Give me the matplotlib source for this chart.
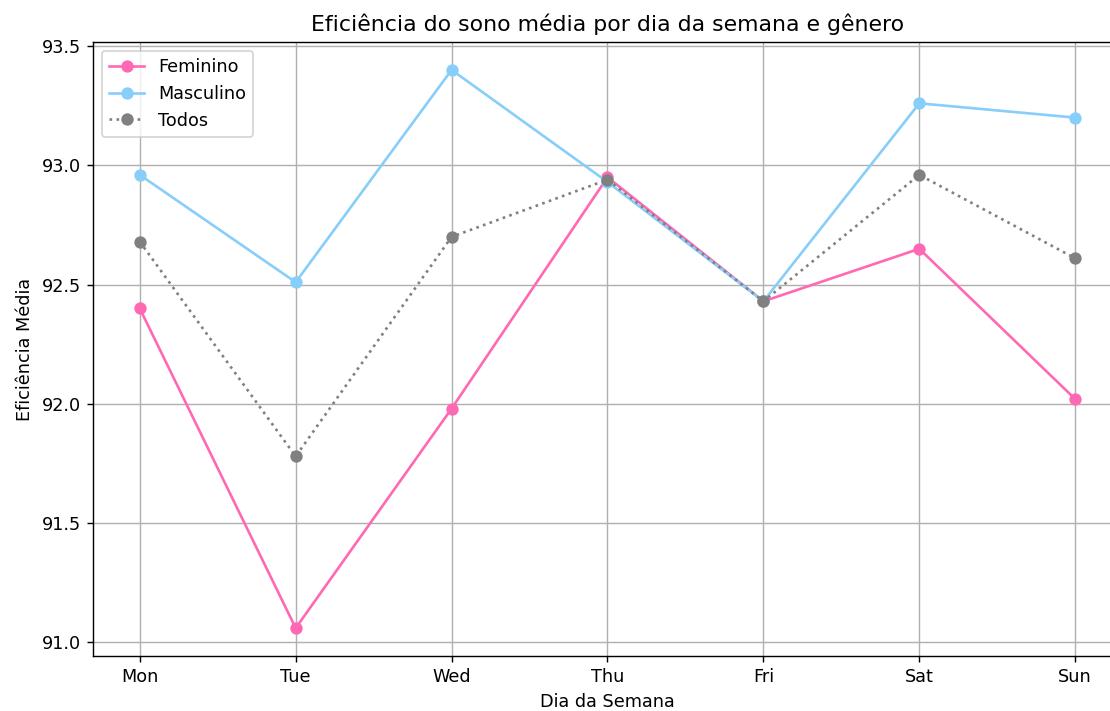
import matplotlib
matplotlib.use("Agg")
import matplotlib.pyplot as plt

days = ["Mon", "Tue", "Wed", "Thu", "Fri", "Sat", "Sun"]
feminino = [92.40, 91.06, 91.98, 92.95, 92.43, 92.65, 92.02]
masculino = [92.96, 92.51, 93.40, 92.93, 92.43, 93.26, 93.20]
todos = [92.68, 91.78, 92.70, 92.94, 92.43, 92.96, 92.61]

dpi = 127
fig = plt.figure(figsize=(1110 / dpi, 711 / dpi), dpi=dpi)
# axes runs a little past the right edge, as in the original crop
ax = fig.add_axes([93 / 1110, 55 / 711, 1029 / 1110, 614 / 711])

ax.plot(days, feminino, marker="o", color="hotpink", label="Feminino")
ax.plot(days, masculino, marker="o", color="lightskyblue", label="Masculino")
ax.plot(days, todos, marker="o", linestyle=":", color="gray", label="Todos")

ax.set_title("Eficiência do sono média por dia da semana e gênero", fontsize=12.5)
ax.set_xlabel("Dia da Semana")
ax.set_ylabel("Eficiência Média")
ax.legend(loc="upper left")
ax.grid(True)

fig.savefig("out.png", dpi=dpi)
